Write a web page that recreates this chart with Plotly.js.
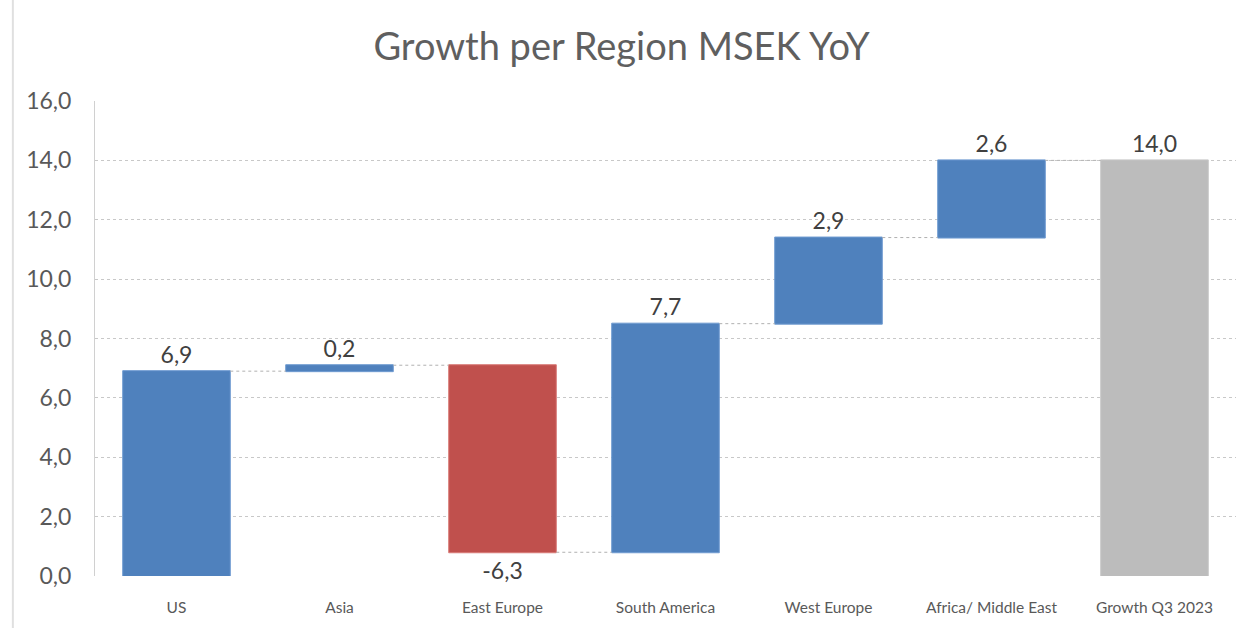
<!DOCTYPE html>
<html>
<head>
<meta charset="utf-8">
<script src="https://cdn.plot.ly/plotly-3.0.1.min.js"></script>
<style>html,body{margin:0;padding:0;background:#fff;}#chart{width:1243px;height:628px;}</style>
</head>
<body>
<div id="chart"></div>
<script>
const categories = ["US", "Asia", "East Europe", "South America", "West Europe", "Africa/ Middle East", "Growth Q3 2023"];
const values = [6.9, 0.2, -6.3, 7.7, 2.9, 2.6, 14.0];
const measures = ["relative", "relative", "relative", "relative", "relative", "relative", "total"];
const yTicks = [0, 2, 4, 6, 8, 10, 12, 14, 16];

const labels = values.map(v => v.toFixed(1).replace('.', ','));

const trace = {
  type: 'waterfall',
  x: categories,
  y: values,
  measure: measures,
  text: labels,
  texttemplate: '%{text}',
  textposition: 'outside',
  cliponaxis: false,
  textfont: {family: 'Lato, "Open Sans", sans-serif', size: 23, color: '#404040'},
  increasing: {marker: {color: '#4f81bd', line: {color: '#6f9bd1', width: 1}}},
  decreasing: {marker: {color: '#c0504d', line: {color: '#d87a77', width: 1}}},
  totals: {marker: {color: '#bcbcbc', line: {color: '#c8c8c8', width: 1}}},
  connector: {line: {color: '#b0b0b0', width: 1, dash: 'dot'}},
  hoverinfo: 'skip'
};

const layout = {
  width: 1243,
  height: 628,
  margin: {l: 95, r: 7, t: 101, b: 52},
  paper_bgcolor: '#ffffff',
  plot_bgcolor: '#ffffff',
  separators: ',.',
  showlegend: false,
  waterfallgap: 0.34,
  title: {
    text: 'Growth per Region MSEK YoY',
    x: 0.5, xanchor: 'center',
    y: 0.925, yanchor: 'middle',
    font: {family: 'Lato, "Open Sans", sans-serif', size: 38, color: '#5f5f5f'}
  },
  xaxis: {
    type: 'category',
    showgrid: false,
    showline: false,
    ticks: '',
    tickfont: {family: 'Lato, "Open Sans", sans-serif', size: 15.5, color: '#595959'},
    ticklabelstandoff: 20
  },
  yaxis: {
    range: [0, 16],
    tickvals: yTicks,
    tickformat: '.1f',
    showgrid: true,
    gridcolor: '#c8c8c8',
    griddash: 'dot',
    gridwidth: 1,
    zeroline: false,
    showline: true,
    linecolor: '#d0d0d0',
    ticks: '',
    ticklabelstandoff: 18,
    tickfont: {family: 'Lato, "Open Sans", sans-serif', size: 23, color: '#595959'}
  },
  shapes: [
    {type: 'line', xref: 'paper', yref: 'paper', x0: -0.072, x1: -0.072, y0: -0.2, y1: 1.3, line: {color: '#e0e0e0', width: 2}}
  ]
};

Plotly.newPlot('chart', [trace], layout, {displayModeBar: false, staticPlot: true});
</script>
</body>
</html>
